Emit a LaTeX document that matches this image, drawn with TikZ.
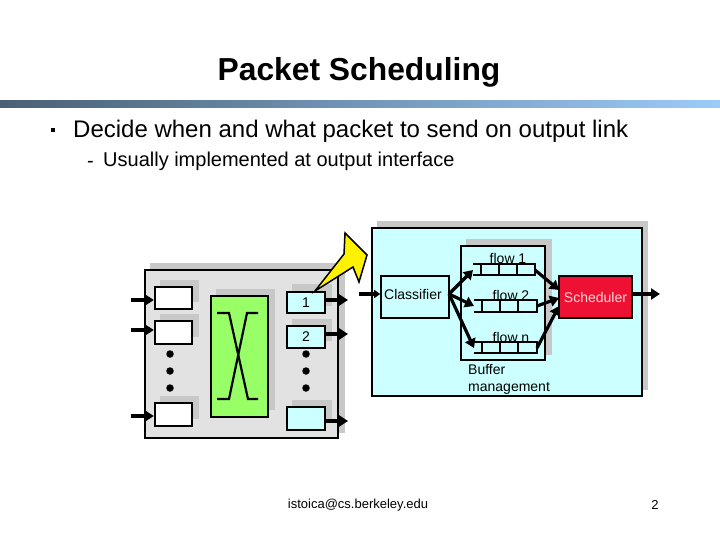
\documentclass[tikz,border=0pt]{standalone}
\usepackage{fontspec}
\setmainfont{Liberation Sans}
\definecolor{shadowgray}{HTML}{C8C8C8}
\definecolor{panelgray}{HTML}{E2E2E2}
\definecolor{paleblue}{HTML}{CCFFFF}
\definecolor{switchgreen}{HTML}{99FF66}
\definecolor{schedred}{HTML}{EE1133}
\definecolor{barleft}{HTML}{4A6075}
\definecolor{barright}{HTML}{9CCBFA}
\usetikzlibrary{arrows.meta}
\tikzset{
  x=1pt,y=-1pt,
  boxline/.style={draw=black,line width=2.4pt},
  thinbox/.style={draw=black,line width=1.6pt},
  flowarrow/.style={draw=black,line width=3.2pt,-{Triangle[length=9pt,width=11pt]}},
  smallarrow/.style={draw=black,line width=3.2pt,-{Triangle[length=6pt,width=8pt]}},
  dotmark/.style={circle,fill=black,inner sep=0pt,minimum size=7.5pt},
  difftext/.style={font=\fontsize{14}{17}\selectfont,inner sep=0pt,text=black},
  queueline/.style={draw=black,line width=1.8pt},
}
\begin{document}
\begin{tikzpicture}
\useasboundingbox (0,0) rectangle (720,540);
\fill[white] (0,0) rectangle (720,540);
\node[font=\bfseries\fontsize{31.8}{36}\selectfont,inner sep=0pt] (title) at (359,72) {Packet Scheduling};
\shade[left color=barleft,right color=barright,draw=none] (0,101) rectangle (720,107.5);
\node[fill=black,minimum size=4.5pt,inner sep=0pt] (bullet) at (53,130) {};
\node[font=\fontsize{24}{28}\selectfont,inner sep=0pt,anchor=west] (line1) at (73,131) {Decide when and what packet to send on output link};
\node[font=\fontsize{20}{24}\selectfont,inner sep=0pt,anchor=west] (dash) at (87,164) {-};
\node[font=\fontsize{20}{24}\selectfont,inner sep=0pt,anchor=west] (line2) at (103,161) {Usually implemented at output interface};
% router
\fill[shadowgray] (150,263) rectangle (345,433);
\draw[boxline,fill=panelgray] (145,270) rectangle (338,438);
\foreach \a/\b in {280/302,314/337,396/419}{\fill[shadowgray] (160,\a) rectangle (199,\b);}
\foreach \a/\b in {284/306,319/341,400/423}{\fill[shadowgray] (292,\a) rectangle (332,\b);}
\fill[shadowgray] (216,289) rectangle (275,410);
\coordinate (inA) at (131,300);\coordinate (inB) at (131,330);\coordinate (inC) at (131,416);
\node[boxline,fill=white,minimum width=37pt,minimum height=22pt,inner sep=0pt] (i1) at (173.5,298) {};
\node[boxline,fill=white,minimum width=37pt,minimum height=23pt,inner sep=0pt] (i2) at (173.5,332.5) {};
\node[boxline,fill=white,minimum width=37pt,minimum height=23pt,inner sep=0pt] (i3) at (173.5,414.5) {};
\node[boxline,fill=switchgreen,minimum width=57pt,minimum height=121pt,inner sep=0pt] (sw) at (239.5,356.5) {};
\node[boxline,fill=paleblue,minimum width=38pt,minimum height=21pt,inner sep=0pt,difftext] (o1) at (306,302.5) {1};
\node[boxline,fill=paleblue,minimum width=38pt,minimum height=22pt,inner sep=0pt,difftext] (o2) at (306,337) {2};
\node[boxline,fill=paleblue,minimum width=38pt,minimum height=23pt,inner sep=0pt] (o3) at (306,418.5) {};
\draw[line width=2.2pt] (217,313) -- (229,313) -- (248,399) -- (258,399);
\draw[line width=2.2pt] (258,313) -- (247,313) -- (229,399) -- (217,399);
\foreach \n/\y in {a/354,b/371,c/388}{
  \node[dotmark] (l\n) at (170,\y) {};
  \node[dotmark] (r\n) at (306,\y) {};
}
\draw[flowarrow] (inA) -- (i1.west |- inA);
\draw[flowarrow] (inB) -- (i2.west |- inB);
\draw[flowarrow] (inC) -- (i3.west |- inC);
\coordinate (outA) at (348,300);\coordinate (outB) at (348,334);\coordinate (outC) at (348,421);
\draw[flowarrow] (o1.east |- outA) -- (outA);
\draw[flowarrow] (o2.east |- outB) -- (outB);
\draw[flowarrow] (o3.east |- outC) -- (outC);
% detail panel
\fill[shadowgray] (377,221) rectangle (648,390);
\draw[thinbox,fill=paleblue] (372,228) rectangle (642,396);
\fill[shadowgray] (466,239) rectangle (552,355);
\draw[thinbox,fill=paleblue] (461,246) rectangle (545,360);
\node[thinbox,fill=paleblue,minimum width=68pt,minimum height=42pt,inner sep=0pt] (cl) at (415,297) {};
\node[difftext] (cltext) at (413,294) {Classifier};
\node[thinbox,fill=schedred,minimum width=73pt,minimum height=42pt,inner sep=0pt,text=white!85!red,font=\fontsize{14}{17}\selectfont] (sch) at (595.5,297) {Scheduler};
\coordinate (inD) at (359,294);\coordinate (outD) at (660,294);
\draw[smallarrow] (inD) -- (cl.west |- inD);
\draw[flowarrow] (sch.east |- outD) -- (outD);
% queues
\coordinate (q1) at (473,270);\coordinate (q1e) at (535,270);
\coordinate (q2) at (474,306);\coordinate (q2e) at (537,306);
\coordinate (q3) at (474,348);\coordinate (q3e) at (537,348);
\draw[queueline] (473,264) -- (535,264) -- (535,275) -- (473,275);
\foreach \x in {481,499,517}{\draw[queueline] (\x,264) -- (\x,275);}
\draw[queueline] (474,300) -- (537,300) -- (537,312) -- (474,312);
\foreach \x in {482,500,518}{\draw[queueline] (\x,300) -- (\x,312);}
\draw[queueline] (474,342) -- (537,342) -- (537,353) -- (474,353);
\foreach \x in {482,500,518}{\draw[queueline] (\x,342) -- (\x,353);}
\node[difftext] (f1) at (508,258) {flow 1};
\node[difftext] (f2) at (511,295) {flow 2};
\node[difftext] (f3) at (511,337) {flow n};
\node[difftext,anchor=north west,align=left,text width=90pt,font=\fontsize{14}{17}\selectfont] (buf) at (468,364) {Buffer\\management};
\coordinate (clout) at (449,294);
\draw[flowarrow] (clout) -- (q1);
\draw[flowarrow] (clout) -- (q2);
\draw[flowarrow] (clout) -- (q3);
\draw[flowarrow] (q1e) -- (559,290);
\draw[flowarrow] (q2e) -- (559,298);
\draw[flowarrow] (q3e) -- (559,306);
% callout
\draw[fill=yellow,draw=black,line width=1.5pt,line join=miter] (315,291) -- (344,254) -- (345,233) -- (367,255) -- (359,282) -- (353,267) -- cycle;
\node[font=\fontsize{13}{15}\selectfont,inner sep=0pt] (mail) at (358,505) {istoica@cs.berkeley.edu};
\node[font=\fontsize{13}{15}\selectfont,inner sep=0pt] (page) at (655,505) {2};
\end{tikzpicture}
\end{document}
